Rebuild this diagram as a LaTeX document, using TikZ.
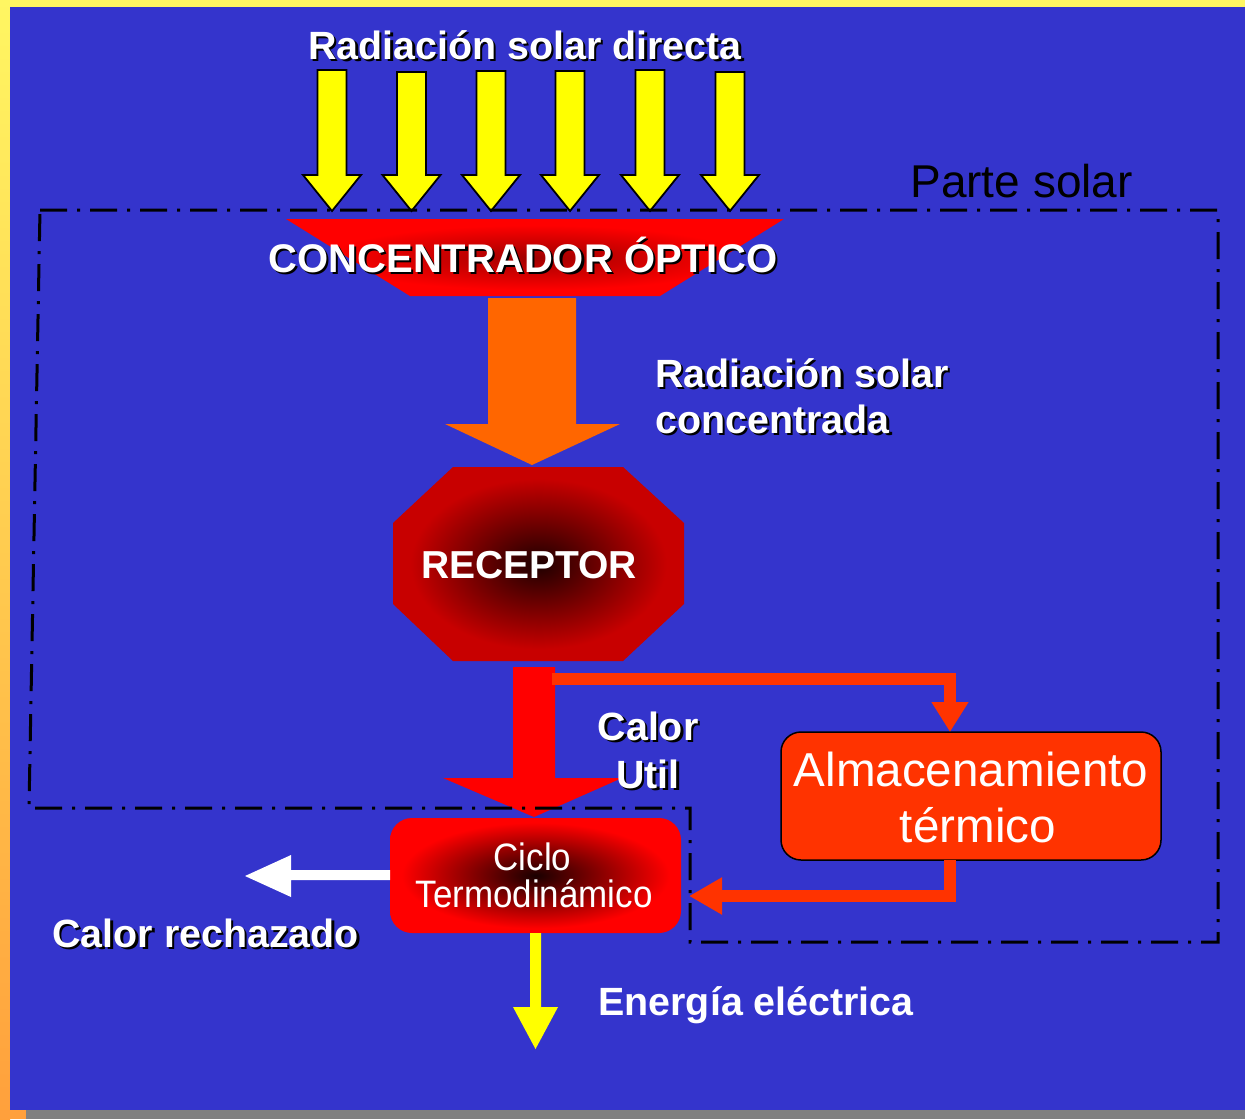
\documentclass[tikz,border=0pt]{standalone}
\usepackage{fontspec}
\usepackage{graphicx}
\setmainfont{Liberation Sans}
\usetikzlibrary{arrows.meta}
\definecolor{bgblue}{RGB}{52,52,204}
\definecolor{bandyel}{RGB}{255,246,98}
\definecolor{bandorg}{RGB}{255,160,60}
\definecolor{bandgray}{RGB}{128,128,128}
\definecolor{sunyel}{RGB}{255,255,0}
\definecolor{beamorg}{RGB}{255,102,0}
\definecolor{storered}{RGB}{255,51,0}
\definecolor{recin}{RGB}{30,0,0}
\definecolor{recout}{RGB}{200,0,0}
\definecolor{cicin}{RGB}{26,0,0}
\definecolor{cicout}{RGB}{255,0,0}
\definecolor{conin}{RGB}{160,0,0}
\definecolor{conout}{RGB}{255,0,0}
\pgfdeclareradialshading{recsh}{\pgfpointorigin}{color(0bp)=(recin); color(22bp)=(recout); color(50bp)=(recout)}
\pgfdeclareradialshading{cicsh}{\pgfpointorigin}{color(0bp)=(cicin); color(23bp)=(cicout); color(50bp)=(cicout)}
\pgfdeclareradialshading{consh}{\pgfpointorigin}{color(0bp)=(conin); color(21bp)=(conout); color(50bp)=(conout)}
\newcommand\shd[1]{\leavevmode\rlap{\kern1.2pt\raisebox{-1.2pt}{\color{black}#1}}#1}
\begin{document}
\begin{tikzpicture}[x=0.5pt,y=-0.5pt,
  lbl/.style={text=white, inner sep=0pt, font=\bfseries\fontsize{19.7}{23}\selectfont},
  yarrow/.style={fill=sunyel, draw=black, line width=0.9pt, line join=miter},
  storeline/.style={draw=storered, line width=6pt, line join=miter},
  dashdotbox/.style={draw=black, line width=1.5pt, dash pattern=on 13.5pt off 5pt on 1.5pt off 5pt},
  almbox/.style={draw=black, line width=0.75pt, fill=storered, rounded corners=10pt, minimum width=190pt, minimum height=64pt, inner sep=0pt},
  cicbox/.style={shading=cicsh, rounded corners=11pt, minimum width=145.5pt, minimum height=57.5pt, inner sep=0pt}
]
\useasboundingbox (0,0) rectangle (1245,1119);
% frame
\fill[bandyel] (0,0) rectangle (1245,7);
\shade[top color=bandyel, bottom color=bandorg] (0,0) rectangle (10,1119);
\fill[bandorg] (0,1110) rectangle (26,1119);
\fill[bandgray] (26,1110) rectangle (1245,1119);
\fill[bgblue] (10,7) rectangle (1245,1110);
% incoming sun arrows
\foreach \cx/\ty in {332/70,411.5/72,491/71,570/71,650/70,730/72}{
  \draw[yarrow] ({\cx-14.5},\ty) -- ({\cx+14.5},\ty) -- ({\cx+14.5},175) -- ({\cx+29},175) -- (\cx,211) -- ({\cx-29},175) -- ({\cx-14.5},175) -- cycle;
}
% concentrator
\shade[shading=consh] (286,219) -- (784,219) -- (660,296) -- (410,296) -- cycle;
% concentrated beam
\fill[beamorg] (488,298) -- (576,298) -- (576,424) -- (620,424) -- (532,465) -- (445,424) -- (488,424) -- cycle;
% receptor
\shade[shading=recsh] (453,467) -- (623,467) -- (684,523) -- (684,604) -- (623,661) -- (453,661) -- (393,604) -- (393,523) -- cycle;
% useful heat arrow
\fill[red] (513,667) -- (555,667) -- (555,778) -- (622,778) -- (534,817) -- (443,778) -- (513,778) -- cycle;
% boxes
\node[almbox] (alm) at (971,796) {};
\node[cicbox] (ciclo) at (535.5,875.5) {};
% storage loop
\coordinate (split) at (552,679);
\coordinate (almin) at (950,732);
\coordinate (almout) at (950,860);
\coordinate (cicin) at (689,896);
\draw[storeline, -{Triangle[length=15pt,width=17.5pt]}] (split) -| (almin);
\draw[storeline, -{Triangle[length=16.5pt,width=17.5pt]}] (almout) |- (cicin);
% rejected heat
\fill[white] (390,870) -- (291,870) -- (291,855) -- (245,876) -- (291,897) -- (291,880) -- (390,880) -- cycle;
% electric energy
\fill[sunyel] (530,933) -- (541,933) -- (541,1007) -- (558,1007) -- (535.5,1049) -- (513,1007) -- (530,1007) -- cycle;
% solar part boundary
\draw[dashdotbox] (40,210) -- (1218,210) -- (1218,942) -- (690,942) -- (690,808) -- (29,808) -- cycle;
% texts
\node[lbl, anchor=base] (tit) at (525,59) {\shd{Radiación solar directa}};
\node[lbl, anchor=base, font=\bfseries\fontsize{20}{24}\selectfont] (con) at (523,272) {\shd{CONCENTRADOR ÓPTICO}};
\node[lbl, anchor=base west] (rsc1) at (655,387) {\shd{Radiación solar}};
\node[lbl, anchor=base west] (rsc2) at (655,433) {\shd{concentrada}};
\node[lbl, anchor=base, font=\bfseries\fontsize{19.5}{23}\selectfont] (rec) at (529,578) {RECEPTOR};
\node[lbl, anchor=base] (cu1) at (648,740) {\shd{Calor}};
\node[lbl, anchor=base] (cu2) at (648,788) {\shd{Util}};
\node[lbl, anchor=base, font=\fontsize{23.8}{28}\selectfont] (alm1) at (971,786) {Almacenamiento};
\node[lbl, anchor=base, font=\fontsize{23.8}{28}\selectfont] (alm2) at (978,842) {térmico};
\node[lbl, anchor=base, font=\fontsize{19.1}{18.5}\selectfont] (cic1) at (532.5,870) {\scalebox{0.915}[1]{Ciclo}};
\node[lbl, anchor=base, font=\fontsize{19.1}{18.5}\selectfont] (cic2) at (534,907) {\scalebox{0.915}[1]{Termodinámico}};
\node[lbl, anchor=base west] (rech) at (52,947) {\shd{Calor rechazado}};
\node[lbl, anchor=base west] (elec) at (598,1015) {Energía eléctrica};
\node[anchor=base west, inner sep=0pt, text=black, font=\fontsize{23}{27}\selectfont] (ps) at (910,197) {Parte solar};
\end{tikzpicture}
\end{document}
